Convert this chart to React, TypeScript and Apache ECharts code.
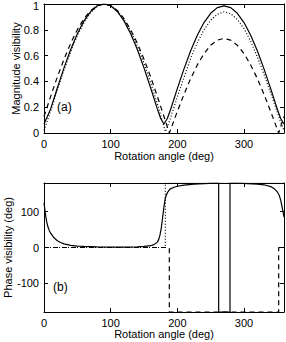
import React, { useEffect, useRef } from "react";
import * as echarts from "echarts";

const xTicks = [0, 100, 200, 300];
const magTicks = [0, 0.2, 0.4, 0.6, 0.8];
const magTopLabel = "1";
const phaseTicks = [-100, 0, 100];

const magSolid: number[][] = [
  [0, 0.07], [10, 0.187], [20, 0.349], [30, 0.505], [40, 0.647], [50, 0.769], [60, 0.869], [70, 0.942],
  [80, 0.987], [90, 1.0], [100, 0.987], [110, 0.942], [120, 0.869], [130, 0.769], [140, 0.647], [150, 0.505],
  [160, 0.349], [170, 0.187], [175, 0.112], [180, 0.07], [185, 0.112], [190, 0.184], [200, 0.344], [210, 0.497],
  [220, 0.637], [230, 0.757], [240, 0.856], [250, 0.928], [260, 0.972], [270, 0.985], [280, 0.972], [290, 0.928],
  [300, 0.856], [310, 0.757], [320, 0.637], [330, 0.497], [340, 0.344], [350, 0.184], [355, 0.112], [360, 0.07],
];

const magDotted: number[][] = [
  [0, 0.02], [10, 0.17], [20, 0.335], [30, 0.49], [40, 0.63], [50, 0.755], [60, 0.857], [70, 0.934],
  [80, 0.982], [90, 1.0], [100, 0.99], [110, 0.95], [120, 0.88], [130, 0.79], [140, 0.675], [150, 0.54],
  [160, 0.39], [170, 0.225], [176, 0.12], [182, 0.01], [186, 0.06], [190, 0.12], [200, 0.28], [210, 0.43],
  [220, 0.58], [230, 0.7], [240, 0.8], [250, 0.875], [260, 0.92], [270, 0.94], [280, 0.925], [290, 0.88],
  [300, 0.81], [310, 0.71], [320, 0.59], [330, 0.455], [340, 0.31], [350, 0.16], [356, 0.07], [360, 0.02],
];

const magDashed: number[][] = [
  [0, 0.128], [10, 0.284], [20, 0.434], [30, 0.572], [40, 0.696], [50, 0.801], [60, 0.887], [70, 0.949],
  [80, 0.987], [90, 1.0], [100, 0.987], [110, 0.949], [120, 0.887], [130, 0.801], [140, 0.696], [150, 0.572],
  [160, 0.434], [170, 0.284], [180, 0.128], [188, 0], [190, 0.028], [200, 0.167], [210, 0.3], [220, 0.422],
  [230, 0.528], [240, 0.615], [250, 0.68], [260, 0.72], [270, 0.733], [280, 0.72], [290, 0.68], [300, 0.615],
  [310, 0.528], [320, 0.422], [330, 0.3], [340, 0.167], [350, 0.028], [352, 0], [360, 0.128],
];

const phaseSolid: number[][] = [
  [0, 125], [1, 110], [2, 95], [4, 72], [6, 57], [8, 47], [10, 40], [15, 27], [20, 19], [25, 14], [30, 10],
  [40, 6], [50, 4], [60, 3], [80, 1.5], [100, 1], [120, 1], [140, 2], [150, 3], [160, 5], [165, 8],
  [170, 15], [172, 22], [174, 35], [176, 55], [178, 85], [180, 115], [182, 138], [185, 153], [189, 163],
  [195, 168], [200, 171], [210, 174], [225, 177], [240, 178.5], [255, 179.5], [262, 180], [262, -180],
  [279, -180], [279, 180], [290, 179.5], [305, 178.5], [320, 177], [330, 175], [340, 170], [346, 163],
  [350, 155], [353, 145], [355, 132], [357, 115], [358.5, 100], [360, 85],
];

const phaseDotted: number[][] = [
  [0, 0], [182, 0], [182, 180], [360, 180],
];

const phaseDashed: number[][] = [
  [0, 0], [188, 0], [188, -180], [352, -180], [352, 0], [360, 0],
];

const FONT = "'Liberation Sans', Arial, Helvetica, sans-serif";

function axisBase(extra: any) {
  return {
    type: "value",
    axisLine: { show: true, onZero: false, lineStyle: { color: "#000", width: 1 } },
    splitLine: { show: false },
    axisTick: { show: true, inside: true, length: 4, lineStyle: { color: "#000", width: 1 } },
    axisLabel: { color: "#000", fontSize: 11, fontFamily: FONT, margin: 5 },
    nameTextStyle: { color: "#000", fontSize: 11, fontFamily: FONT },
    ...extra,
  };
}

export default function App() {
  const ref = useRef<HTMLDivElement>(null);
  useEffect(() => {
    document.body.style.margin = "0";
    if (!ref.current) return;
    const chart = echarts.init(ref.current, undefined, { renderer: "svg" });
    const lineStyle = (type: any) => ({ color: "#000", width: 1.2, type });
    const xCommon = (grid: number, pos: string, withLabel: boolean, gap: number) =>
      axisBase({
        gridIndex: grid,
        position: pos,
        min: 0,
        max: 360,
        axisTick: { show: true, inside: true, length: 4, customValues: xTicks, lineStyle: { color: "#000" } },
        axisLabel: withLabel
          ? { show: true, customValues: xTicks, color: "#000", fontSize: 11, fontFamily: FONT, margin: 5 }
          : { show: false },
        name: withLabel ? "Rotation angle (deg)" : "",
        nameLocation: "middle",
        nameGap: gap,
      });
    chart.setOption({
      animation: false,
      grid: [
        { left: 44, top: 4, width: 240, height: 129, containLabel: false, outerBoundsMode: "none" },
        { left: 44, top: 183, width: 240, height: 129, containLabel: false, outerBoundsMode: "none" },
      ],
      xAxis: [
        xCommon(0, "bottom", true, 17),
        xCommon(0, "top", false, 0),
        xCommon(1, "bottom", true, 15),
        xCommon(1, "top", false, 0),
      ],
      yAxis: [
        axisBase({
          gridIndex: 0, position: "left", min: 0, max: 1, interval: 0.2,
          axisLabel: { show: true, customValues: magTicks, color: "#000", fontSize: 11, fontFamily: FONT, margin: 5 },
          name: "Magnitude visibility", nameLocation: "middle", nameGap: 23, nameMoveOverlap: false,
        }),
        axisBase({
          gridIndex: 0, position: "right", min: 0, max: 1, interval: 0.2,
          axisLabel: { show: false },
        }),
        axisBase({
          gridIndex: 1, position: "left", min: -180, max: 180,
          axisTick: { show: true, inside: true, length: 4, customValues: phaseTicks, lineStyle: { color: "#000" } },
          axisLabel: { show: true, customValues: phaseTicks, color: "#000", fontSize: 11, fontFamily: FONT, margin: 5 },
          name: "Phase visibility (deg)", nameLocation: "middle", nameGap: 31, nameMoveOverlap: false,
        }),
        axisBase({
          gridIndex: 1, position: "right", min: -180, max: 180,
          axisTick: { show: true, inside: true, length: 4, customValues: phaseTicks, lineStyle: { color: "#000" } },
          axisLabel: { show: false },
        }),
      ],
      series: [
        { type: "line", xAxisIndex: 0, yAxisIndex: 0, data: magSolid, symbol: "none", lineStyle: lineStyle("solid") },
        { type: "line", xAxisIndex: 0, yAxisIndex: 0, data: magDotted, symbol: "none", lineStyle: lineStyle([1, 2]) },
        { type: "line", xAxisIndex: 0, yAxisIndex: 0, data: magDashed, symbol: "none", lineStyle: lineStyle([5, 4]) },
        { type: "line", xAxisIndex: 2, yAxisIndex: 2, data: phaseSolid, symbol: "none", lineStyle: lineStyle("solid") },
        { type: "line", xAxisIndex: 2, yAxisIndex: 2, data: phaseDotted, symbol: "none", lineStyle: lineStyle([1, 2]) },
        { type: "line", xAxisIndex: 2, yAxisIndex: 2, data: phaseDashed, symbol: "none", lineStyle: lineStyle([5, 4]) },
      ],
      graphic: [
        { type: "text", right: 247, top: 0, style: { text: magTopLabel, fill: "#000", fontSize: 11, fontFamily: FONT } },
        { type: "text", left: 57, top: 101, style: { text: "(a)", fill: "#000", fontSize: 12, fontFamily: FONT } },
        { type: "text", left: 53, top: 281, style: { text: "(b)", fill: "#000", fontSize: 12, fontFamily: FONT } },
      ],
    });
    return () => chart.dispose();
  }, []);
  return <div ref={ref} style={{ width: 286, height: 342 }} />;
}
